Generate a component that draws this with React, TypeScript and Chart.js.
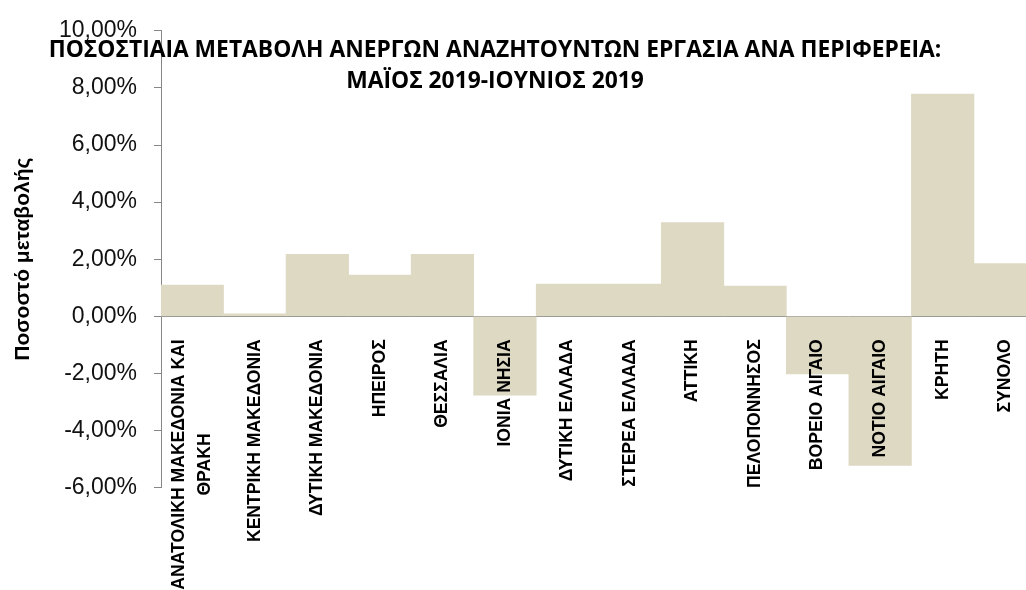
import React, { useEffect, useRef } from 'react';
import { Chart, registerables } from 'chart.js';

Chart.register(...registerables);

const categories: (string | string[])[] = [
  ['ΑΝΑΤΟΛΙΚΗ ΜΑΚΕΔΟΝΙΑ ΚΑΙ', 'ΘΡΑΚΗ'],
  'ΚΕΝΤΡΙΚΗ ΜΑΚΕΔΟΝΙΑ',
  'ΔΥΤΙΚΗ ΜΑΚΕΔΟΝΙΑ',
  'ΗΠΕΙΡΟΣ',
  'ΘΕΣΣΑΛΙΑ',
  'ΙΟΝΙΑ ΝΗΣΙΑ',
  'ΔΥΤΙΚΗ ΕΛΛΑΔΑ',
  'ΣΤΕΡΕΑ ΕΛΛΑΔΑ',
  'ΑΤΤΙΚΗ',
  'ΠΕΛΟΠΟΝΝΗΣΟΣ',
  'ΒΟΡΕΙΟ ΑΙΓΑΙΟ',
  'ΝΟΤΙΟ ΑΙΓΑΙΟ',
  'ΚΡΗΤΗ',
  'ΣΥΝΟΛΟ',
];

const changePct = [1.09, 0.09, 2.17, 1.44, 2.17, -2.76, 1.13, 1.13, 3.28, 1.06, -2.02, -5.22, 7.78, 1.85];

const titleLines = [
  'ΠΟΣΟΣΤΙΑΙΑ ΜΕΤΑΒΟΛΗ ΑΝΕΡΓΩΝ ΑΝΑΖΗΤΟΥΝΤΩΝ ΕΡΓΑΣΙΑ ΑΝΑ ΠΕΡΙΦΕΡΕΙΑ:',
  'ΜΑΪΟΣ 2019-ΙΟΥΝΙΟΣ 2019',
];
const yAxisTitle = 'Ποσοστό μεταβολής';
const yMin = -6;
const yMax = 10;
const yStep = 2;

const BAR_COLOR = '#DDD9C3';
const AXIS_COLOR = '#868686';
const LABEL_FONT = 'bold 17.6px "Liberation Sans"';
const LABEL_GAP = 23;
const LABEL_LINE_H = 25.5;
const TITLE_FONT = 'bold 22.8px "Open Sans"';
const TITLE_CX = 495;
const TITLE_BASELINES = [56.5, 88];

const overlayPlugin = {
  id: 'overlayText',
  afterDatasetsDraw(chart: any) {
    const { ctx } = chart;
    const xs = chart.scales.x;
    const ys = chart.scales.y;
    const y0 = ys.getPixelForValue(0);
    ctx.save();
    ctx.fillStyle = '#000';
    ctx.font = LABEL_FONT;
    categories.forEach((c, i) => {
      const lines = Array.isArray(c) ? c : [c];
      const cx = xs.getPixelForValue(i);
      const W = Math.max(...lines.map((l) => ctx.measureText(l).width));
      ctx.save();
      ctx.translate(cx, y0 + LABEL_GAP);
      ctx.rotate(-Math.PI / 2);
      ctx.textAlign = 'center';
      ctx.textBaseline = 'middle';
      lines.forEach((l, j) => {
        ctx.fillText(l, -W / 2, (j - (lines.length - 1) / 2) * LABEL_LINE_H);
      });
      ctx.restore();
    });
    ctx.restore();
  },
  afterDraw(chart: any) {
    const { ctx } = chart;
    ctx.save();
    ctx.fillStyle = '#000';
    ctx.font = TITLE_FONT;
    ctx.textAlign = 'center';
    ctx.textBaseline = 'alphabetic';
    titleLines.forEach((t, i) => ctx.fillText(t, TITLE_CX, TITLE_BASELINES[i]));
    ctx.restore();
  },
};

export default function App() {
  const ref = useRef<HTMLCanvasElement | null>(null);
  useEffect(() => {
    if (!ref.current) return;
    const chart = new Chart(ref.current, {
      type: 'bar',
      data: {
        labels: categories as any,
        datasets: [
          {
            data: changePct,
            backgroundColor: BAR_COLOR,
            borderWidth: 0,
            barPercentage: 1,
            categoryPercentage: 1,
          },
        ],
      },
      options: {
        responsive: false,
        animation: false,
        devicePixelRatio: 1,
        layout: { padding: { top: 26, bottom: 102.4, right: 3.5, left: 0 } },
        plugins: {
          legend: { display: false },
          tooltip: { enabled: false },
          title: { display: false },
        },
        scales: {
          x: {
            position: { y: 0 } as any,
            z: 1,
            grid: { display: false },
            border: { display: true, color: AXIS_COLOR, width: 1 },
            ticks: { display: false },
          },
          y: {
            min: yMin,
            max: yMax,
            afterFit: (s: any) => {
              s.width = 161;
            },
            ticks: {
              stepSize: yStep,
              padding: 17,
              color: '#111',
              font: { family: '"Liberation Sans"', size: 23 },
              callback: (v: any) => Number(v).toFixed(2).replace('.', ',') + '%',
            },
            grid: {
              drawOnChartArea: false,
              drawTicks: true,
              tickLength: 7,
              color: AXIS_COLOR,
            },
            border: { display: true, color: AXIS_COLOR, width: 1 },
            title: {
              display: true,
              text: yAxisTitle,
              color: '#000',
              font: { family: '"Liberation Sans"', size: 21, weight: 'bold' },
              padding: { top: 11, bottom: 0 },
            },
          },
        },
      },
      plugins: [overlayPlugin],
    });
    return () => chart.destroy();
  }, []);

  return (
    <div style={{ position: 'fixed', left: 0, top: 0, width: 1026, height: 590, overflow: 'hidden', background: '#fff' }}>
      <canvas ref={ref} width={1040} height={590} style={{ width: 1040, height: 590, display: 'block' }} />
    </div>
  );
}
